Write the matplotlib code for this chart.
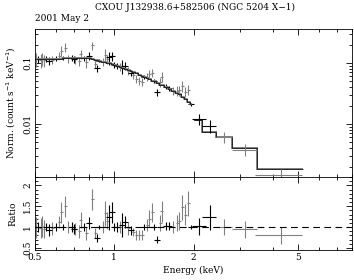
import numpy as np
import matplotlib.pyplot as plt
from matplotlib.ticker import FixedLocator, NullFormatter

# spectral bins: centre energy (keV), half width, colour group (0 = black, 1 = grey)
energy = [0.505, 0.512, 0.525, 0.532, 0.542, 0.551, 0.566, 0.581, 0.602, 0.618,
          0.628, 0.640, 0.651, 0.668, 0.692, 0.702, 0.711, 0.736, 0.746, 0.770,
          0.783, 0.803, 0.825, 0.847, 0.862, 0.876, 0.908, 0.924, 0.940, 0.957,
          0.983, 1.000, 1.026, 1.054, 1.073, 1.101, 1.130, 1.160, 1.181, 1.212,
          1.245, 1.278, 1.301, 1.335, 1.358, 1.394, 1.419, 1.457, 1.496, 1.516,
          1.577, 1.619, 1.676, 1.736, 1.767, 1.813, 1.861, 1.911, 1.962, 2.10,
          2.30, 2.62, 3.14, 4.30]
half_width = [0.006, 0.013, 0.006, 0.006, 0.006, 0.014, 0.015, 0.007, 0.016, 0.008,
              0.008, 0.017, 0.008, 0.009, 0.018, 0.018, 0.009, 0.009, 0.010, 0.020,
              0.010, 0.021, 0.011, 0.011, 0.022, 0.022, 0.012, 0.012, 0.012, 0.025,
              0.025, 0.026, 0.027, 0.013, 0.028, 0.028, 0.015, 0.030, 0.015, 0.016,
              0.016, 0.016, 0.033, 0.017, 0.017, 0.018, 0.036, 0.037, 0.019, 0.019,
              0.040, 0.041, 0.021, 0.022, 0.022, 0.023, 0.023, 0.024, 0.050, 0.125,
              0.140, 0.185, 0.330, 0.865]
group = [1, 0, 1, 1, 1, 0, 0, 1, 0, 1,
         1, 0, 1, 1, 0, 0, 1, 1, 1, 0,
         1, 0, 1, 1, 0, 0, 1, 1, 1, 0,
         0, 0, 0, 1, 0, 0, 1, 0, 1, 1,
         1, 1, 0, 1, 1, 1, 0, 0, 1, 1,
         0, 0, 1, 1, 1, 1, 1, 1, 0, 0,
         0, 1, 1, 1]
model = [0.115, 0.115, 0.115, 0.116, 0.116, 0.116, 0.117, 0.117, 0.118, 0.118,
         0.118, 0.119, 0.119, 0.119, 0.120, 0.120, 0.120, 0.120, 0.120, 0.120,
         0.120, 0.119, 0.116, 0.113, 0.111, 0.109, 0.105, 0.103, 0.101, 0.099,
         0.095, 0.093, 0.090, 0.086, 0.084, 0.080, 0.077, 0.073, 0.071, 0.068,
         0.064, 0.061, 0.059, 0.056, 0.054, 0.051, 0.050, 0.047, 0.044, 0.043,
         0.040, 0.038, 0.035, 0.032, 0.031, 0.028, 0.026, 0.023, 0.021, 0.0118,
         0.0075, 0.0061, 0.0040, 0.00183]
ratio = [1.00, 1.00, 0.98, 1.02, 0.95, 1.00, 0.93, 0.97, 1.00, 1.12,
         1.35, 1.00, 1.50, 1.00, 1.00, 0.95, 0.95, 0.90, 1.17, 1.00,
         0.85, 1.10, 1.67, 0.86, 0.74, 1.00, 1.00, 1.33, 1.15, 1.24,
         1.36, 1.00, 1.00, 1.00, 1.05, 1.12, 0.97, 0.92, 0.88, 0.80,
         0.80, 0.80, 1.00, 1.05, 1.20, 1.35, 1.00, 0.70, 1.10, 1.38,
         1.02, 1.02, 1.00, 1.10, 1.15, 1.48, 1.30, 1.57, 1.00, 1.02,
         1.24, 1.00, 0.95, 0.80]
ratio_err = [0.25, 0.12, 0.25, 0.25, 0.22, 0.10, 0.15, 0.15, 0.10, 0.15,
             0.25, 0.08, 0.25, 0.15, 0.12, 0.12, 0.15, 0.15, 0.20, 0.10,
             0.15, 0.15, 0.25, 0.12, 0.10, 0.05, 0.15, 0.30, 0.20, 0.30,
             0.25, 0.10, 0.12, 0.15, 0.28, 0.15, 0.15, 0.10, 0.10, 0.12,
             0.12, 0.12, 0.08, 0.15, 0.20, 0.22, 0.08, 0.08, 0.20, 0.25,
             0.10, 0.10, 0.15, 0.20, 0.22, 0.30, 0.25, 0.30, 0.05, 0.20,
             0.30, 0.20, 0.20, 0.20]

# model step edges above 2 keV
wide_edges = [2.01, 2.16, 2.44, 2.81, 3.47, 5.2]
wide_model = [0.0118, 0.0075, 0.0061, 0.0040, 0.00183]

energy = np.array(energy)
half_width = np.array(half_width)
group = np.array(group)
model = np.array(model)
ratio = np.array(ratio)
ratio_err = np.array(ratio_err)
flux = ratio * model
flux_err = ratio_err * model

plt.rcParams['font.family'] = 'DejaVu Serif'
plt.rcParams['font.size'] = 6.5

fig = plt.figure(figsize=(3.54, 2.8), dpi=100)
ax1 = fig.add_axes([0.099, 0.368, 0.8955, 0.5286])
ax2 = fig.add_axes([0.099, 0.107, 0.8955, 0.2607], sharex=ax1)

colours = ['black', '#808080']
low = energy < 2.0
for ax, y, yerr in [(ax1, flux, flux_err), (ax2, ratio, ratio_err)]:
    for g in [1, 0]:
        m = group == g
        ax.errorbar(energy[m], y[m], xerr=half_width[m], yerr=yerr[m],
                    fmt='none', ecolor=colours[g], elinewidth=0.8, capsize=0)

# model
ax1.step(energy[low], model[low], where='mid', color='#808080', lw=1.4)
ax1.step(energy[low], model[low], where='mid', color='black', lw=0.5)
ax1.stairs(wide_model, wide_edges, baseline=None, color='#808080', lw=1.4)
ax1.stairs(wide_model, wide_edges, baseline=None, color='black', lw=0.5)
ax2.axhline(1.0, color='black', lw=0.8, ls=(0, (6, 4)))

ax1.set_xscale('log')
ax1.set_yscale('log')
ax1.set_xlim(0.5, 8.0)
ax1.set_ylim(0.00135, 0.36)
ax2.set_ylim(0.45, 2.2)

xmajor = [0.5, 1, 2, 5]
xminor = [0.6, 0.7, 0.8, 0.9, 3, 4, 6, 7, 8]
for ax in (ax1, ax2):
    ax.xaxis.set_major_locator(FixedLocator(xmajor))
    ax.xaxis.set_minor_locator(FixedLocator(xminor))
    ax.tick_params(which='both', direction='in', top=True, right=True,
                   width=0.6, pad=2)
    ax.tick_params(which='major', length=4)
    ax.tick_params(which='minor', length=2)
    for s in ax.spines.values():
        s.set_linewidth(0.6)
ax2.set_xticklabels(['0.5', '1', '2', '5'])
ax2.xaxis.set_minor_formatter(NullFormatter())
plt.setp(ax1.get_xticklabels(which='both'), visible=False)

ax1.set_yticks([0.01, 0.1])
ax1.set_yticklabels(['0.01', '0.1'], rotation=90, va='center')
ax1.yaxis.set_minor_formatter(NullFormatter())
ax2.set_yticks([0.5, 1, 1.5, 2])
ax2.set_yticklabels(['0.5', '1', '1.5', '2'], rotation=90, va='center')
ax2.set_yticks(np.arange(0.5, 2.21, 0.1), minor=True)

ax1.set_ylabel('Norm. (count s$^{-1}$ keV$^{-1}$)', labelpad=4)
ax2.set_ylabel('Ratio', labelpad=4)
ax2.set_xlabel('Energy (keV)', labelpad=3)
fig.text(0.55, 0.975, 'CXOU J132938.6+582506 (NGC 5204 X\u22121)',
         ha='center', va='center')
fig.text(0.099, 0.935, '2001 May 2', ha='left', va='center')

fig.savefig('out.png', dpi=100)
